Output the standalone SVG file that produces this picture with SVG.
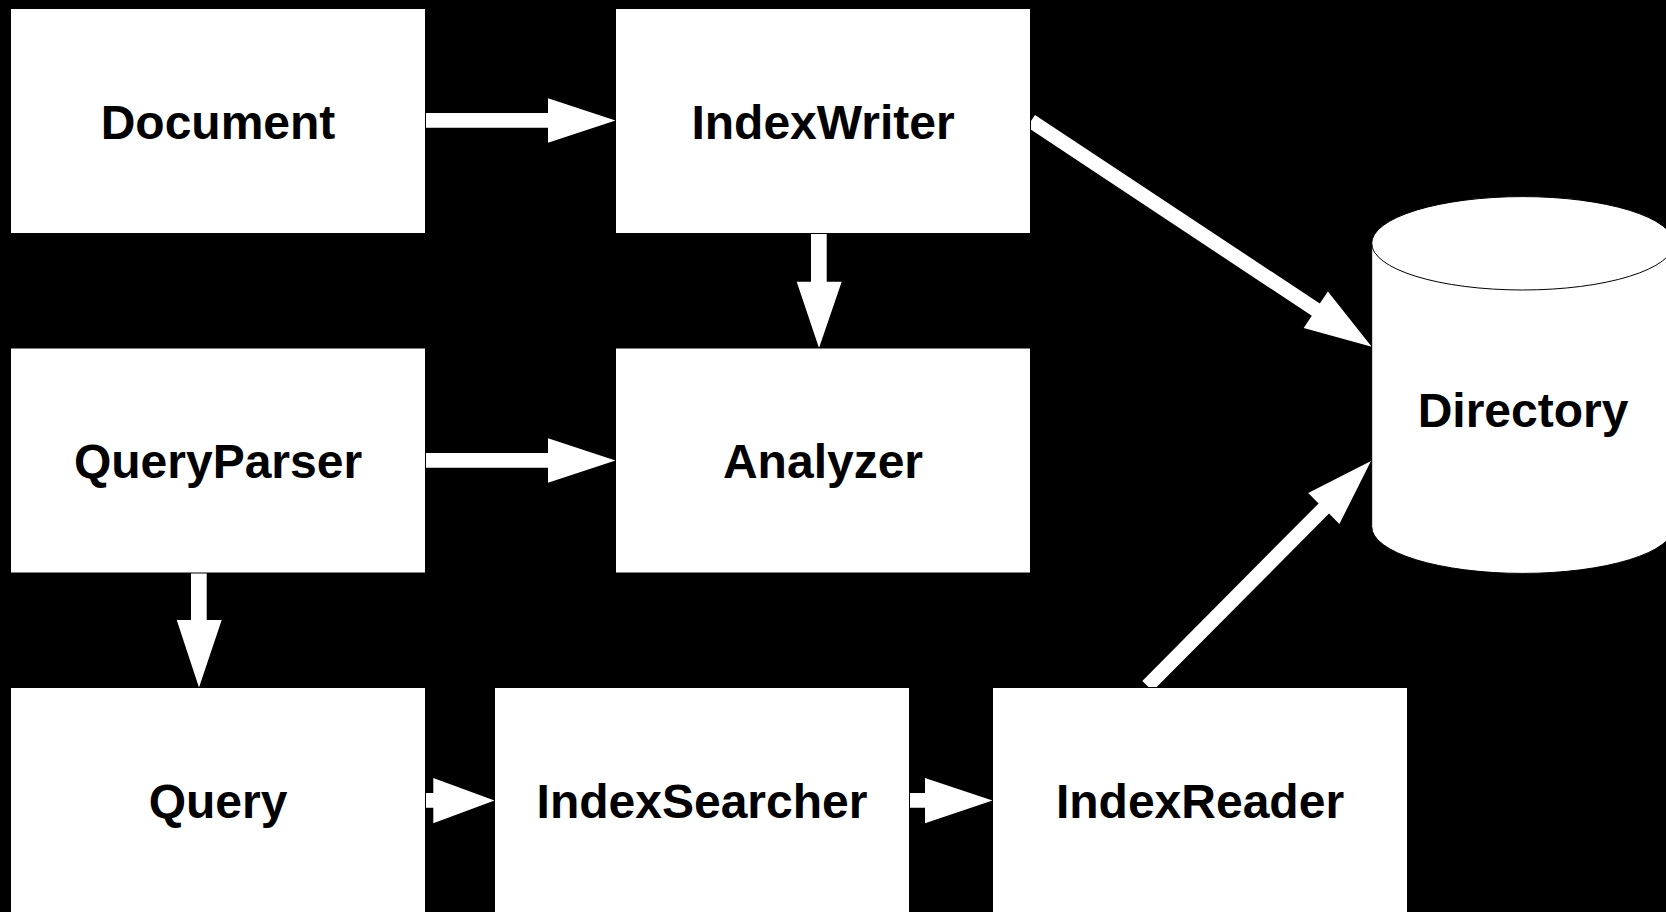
<svg xmlns="http://www.w3.org/2000/svg" width="1666" height="912" viewBox="0 0 1666 912">
<style>
.box{fill:#fff;stroke:#000;stroke-width:1}
.lbl{font-family:"Liberation Sans",Arial,sans-serif;font-weight:bold;font-size:48px;fill:#000;text-anchor:middle}
.arr{fill:#fff;stroke:none}
</style>
<rect x="0" y="0" width="1666" height="912" fill="#000"/>
<g id="connectors">
<polygon class="arr" points="425,113 548,113 548,98.3 615.5,120.5 548,142.7 548,127.7 425,127.7"/>
<polygon class="arr" points="425,453 548,453 548,438.3 615.5,460.5 548,482.7 548,467.7 425,467.7"/>
<polygon class="arr" points="811,233 826.7,233 826.7,281.7 841.7,281.7 819,348 796.7,281.7 811,281.7"/>
<polygon class="arr" points="191,573 206.7,573 206.7,620 221.7,620 199,687.5 176.7,620 191,620"/>
<polygon class="arr" points="425,793 433.3,793 433.3,778 494.5,800.5 433.3,823.3 433.3,807.7 425,807.7"/>
<polygon class="arr" points="909,793 925,793 925,778 992.5,800.5 925,823.3 925,807.7 909,807.7"/>
<polygon class="arr" points="1035,114.9 1319.8,303.6 1327.9,291.4 1371.7,346.7 1303.7,328 1311.8,315.8 1027,127.1"/>
<polygon class="arr" points="1142.3,680.9 1318.6,503.4 1308.2,493 1371,461 1339.4,524 1329,513.6 1152.7,691.1"/>
</g>
<g id="document"><rect class="box" x="10.5" y="8.5" width="415" height="225"/><text class="lbl" x="218" y="138.5">Document</text></g>
<g id="indexwriter"><rect class="box" x="615.5" y="8.5" width="415" height="225"/><text class="lbl" x="823" y="138.5">IndexWriter</text></g>
<g id="queryparser"><rect class="box" x="10.5" y="348" width="415" height="225"/><text class="lbl" x="218" y="478">QueryParser</text></g>
<g id="analyzer"><rect class="box" x="615.5" y="348" width="415" height="225"/><text class="lbl" x="823" y="478">Analyzer</text></g>
<g id="query"><rect class="box" x="10.5" y="687.5" width="415" height="225"/><text class="lbl" x="218" y="817.5">Query</text></g>
<g id="indexsearcher"><rect class="box" x="494.5" y="687.5" width="415" height="225"/><text class="lbl" x="702" y="817.5">IndexSearcher</text></g>
<g id="indexreader"><rect class="box" x="992.5" y="687.5" width="415" height="225"/><text class="lbl" x="1200" y="817.5">IndexReader</text></g>
<g id="directory">
<path class="box" d="M1371.7,243.3 A151,46.7 0 0 1 1673.7,243.3 V526.7 A151,46.7 0 0 1 1371.7,526.7 Z"/>
<path d="M1371.7,243.3 A151,46.7 0 0 0 1673.7,243.3" fill="none" stroke="#000" stroke-width="1"/>
<text class="lbl" x="1523" y="427">Directory</text>
</g>
</svg>
